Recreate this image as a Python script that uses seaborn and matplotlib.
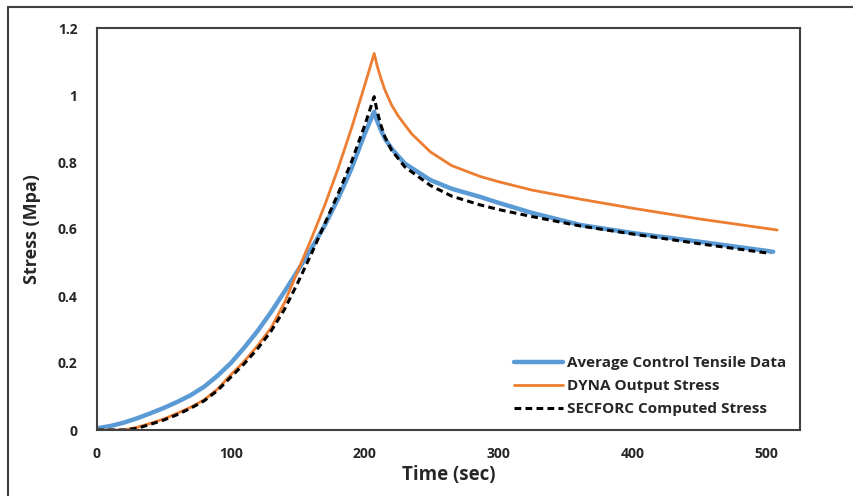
import matplotlib
matplotlib.use("Agg")
import matplotlib.pyplot as plt
import seaborn as sns
import pandas as pd
from matplotlib.lines import Line2D

# ---- data ----
avg_time = [0, 10, 20, 30, 40, 50, 60, 70, 80, 90, 100, 110, 120, 130, 140, 150,
            160, 170, 180, 190, 200, 207, 209, 212, 215, 220, 230, 249, 265, 286,
            300, 325, 361, 400, 450, 505]
avg_stress = [0.005, 0.012, 0.022, 0.035, 0.05, 0.066, 0.084, 0.104, 0.129, 0.162,
              0.200, 0.246, 0.296, 0.352, 0.413, 0.476, 0.541, 0.61, 0.69, 0.78,
              0.885, 0.95, 0.925, 0.895, 0.87, 0.84, 0.795, 0.746, 0.72, 0.696,
              0.678, 0.648, 0.612, 0.588, 0.562, 0.532]

dyna_time = [0, 20, 30, 40, 50, 60, 70, 80, 90, 100, 110, 120, 130, 140, 150, 160,
             170, 180, 190, 200, 207, 209, 212, 215, 220, 225, 235, 249, 265, 286,
             300, 325, 361, 400, 450, 508]
dyna_stress = [0.0, 0.0, 0.008, 0.02, 0.033, 0.05, 0.068, 0.09, 0.122, 0.165, 0.205,
               0.252, 0.305, 0.38, 0.475, 0.57, 0.67, 0.78, 0.90, 1.03, 1.124, 1.09,
               1.05, 1.015, 0.97, 0.937, 0.884, 0.830, 0.789, 0.757, 0.741, 0.716,
               0.689, 0.662, 0.630, 0.597]

sec_time = [0, 20, 30, 40, 50, 60, 70, 80, 90, 100, 110, 120, 130, 140, 150, 160,
            170, 180, 190, 200, 207, 209, 212, 215, 220, 230, 249, 265, 286, 300,
            325, 361, 400, 450, 503]
sec_stress = [0.0, 0.0, 0.005, 0.017, 0.03, 0.046, 0.065, 0.087, 0.118, 0.158,
              0.198, 0.243, 0.295, 0.36, 0.44, 0.525, 0.615, 0.705, 0.80, 0.91,
              0.995, 0.955, 0.91, 0.875, 0.835, 0.785, 0.73, 0.698, 0.672, 0.658,
              0.637, 0.609, 0.585, 0.556, 0.527]

series_names = ["Average Control Tensile Data", "DYNA Output Stress",
                "SECFORC Computed Stress"]
x_ticks = [0, 100, 200, 300, 400, 500]
y_ticks = [0, 0.2, 0.4, 0.6, 0.8, 1.0, 1.2]
y_tick_labels = ["0", "0.2", "0.4", "0.6", "0.8", "1", "1.2"]

df_avg = pd.DataFrame({"Time": avg_time, "Stress": avg_stress})
df_dyna = pd.DataFrame({"Time": dyna_time, "Stress": dyna_stress})
df_sec = pd.DataFrame({"Time": sec_time, "Stress": sec_stress})

sns.set_theme(style="white")
plt.rcParams["font.family"] = ["Open Sans", "DejaVu Sans"]

fig = plt.figure(figsize=(8.54, 4.96), dpi=100)
ax = fig.add_axes([97 / 854, 1 - 430 / 496, (800 - 97) / 854, (430 - 28) / 496])

sns.lineplot(data=df_avg, x="Time", y="Stress", ax=ax, color="#5B9BD5",
             linewidth=3.2, label=series_names[0], sort=False)
sns.lineplot(data=df_dyna, x="Time", y="Stress", ax=ax, color="#ED7D31",
             linewidth=2.0, label=series_names[1], sort=False)
sns.lineplot(data=df_sec, x="Time", y="Stress", ax=ax, color="black",
             linewidth=2.2, linestyle=(0, (2.2, 1.4)), label=series_names[2],
             sort=False)

ax.set_xlim(0, 525)
ax.set_ylim(0, 1.2)
ax.set_xticks(x_ticks)
ax.set_xticklabels([str(t) for t in x_ticks])
ax.set_yticks(y_ticks)
ax.set_yticklabels(y_tick_labels)
ax.tick_params(axis="both", length=0, labelsize=10, colors="#262626")
ax.tick_params(axis="y", pad=14)
ax.tick_params(axis="x", pad=12)
for lab in ax.get_xticklabels() + ax.get_yticklabels():
    lab.set_fontweight("bold")

for sp in ax.spines.values():
    sp.set_visible(True)
    sp.set_color("#404040")
    sp.set_linewidth(1.5)

ax.set_xlabel("Time (sec)", fontsize=13.5, fontweight="bold", color="#262626",
              labelpad=3)
ax.set_ylabel("Stress (Mpa)", fontsize=13, fontweight="bold", color="#262626",
              labelpad=12)

leg = ax.legend(loc="lower right", frameon=False, fontsize=11,
                handlelength=3.2, handletextpad=0.25, labelspacing=0.6,
                borderaxespad=0.5)
for t in leg.get_texts():
    t.set_fontweight("bold")
    t.set_color("#262626")

# outer figure border (left and top visible)
fig.add_artist(Line2D([8 / 854, 8 / 854], [0, 1 - 7 / 496], transform=fig.transFigure,
                      color="#404040", linewidth=1.5))
fig.add_artist(Line2D([8 / 854, 1], [1 - 7 / 496, 1 - 7 / 496], transform=fig.transFigure,
                      color="#404040", linewidth=1.5))

fig.savefig("out.png", dpi=100)
